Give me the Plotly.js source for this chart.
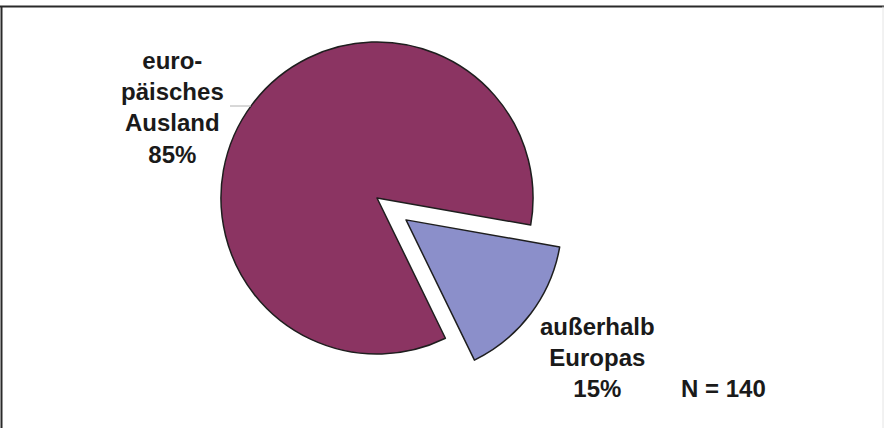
<!DOCTYPE html>
<html>
<head>
<meta charset="utf-8">
<script src="https://cdn.plot.ly/plotly-3.0.1.min.js"></script>
<style>html,body{margin:0;padding:0;background:#fff;}#chart{width:884px;height:428px;}</style>
</head>
<body>
<div id="chart"></div>
<script>
// Data
const labels = ['außerhalb<br>Europas', 'euro-<br>päisches<br>Ausland'];
const values = [15, 85];
const colors = ['#8B8FCA', '#8B3462'];
const pulls = [0.233, 0];
const sampleSize = 140;

const W = 884, H = 428;
const px = x => x / W;
const py = y => 1 - y / H;

const fontBold = {family: '"Liberation Sans", Arial, sans-serif', size: 24, color: '#1a1a1a'};

const trace = {
  type: 'pie',
  labels: labels,
  values: values,
  sort: false,
  direction: 'clockwise',
  rotation: 100,
  pull: pulls,
  marker: {colors: colors, line: {color: '#1e1e1e', width: 1.5}},
  textinfo: 'none',
  textposition: 'none',
  hoverinfo: 'none',
  showlegend: false,
  domain: {x: [px(177), px(577)], y: [py(390.4), py(5.6)]}
};

const labelPos = [
  {x: 597, y: 357},
  {x: 172, y: 107.5}
];

const annotations = labels.map((l, i) => ({
  xref: 'paper', yref: 'paper',
  x: px(labelPos[i].x), y: py(labelPos[i].y),
  xanchor: 'center', yanchor: 'middle',
  text: '<b>' + l + '<br>' + values[i] + '%</b>',
  showarrow: false,
  align: 'center',
  font: fontBold
}));
annotations.push({
  xref: 'paper', yref: 'paper',
  x: px(723), y: py(388),
  xanchor: 'center', yanchor: 'middle',
  text: '<b>N = ' + sampleSize + '</b>',
  showarrow: false,
  font: fontBold
});

const layout = {
  width: W, height: H,
  margin: {l: 0, r: 0, t: 0, b: 0},
  paper_bgcolor: '#ffffff',
  plot_bgcolor: '#ffffff',
  annotations: annotations,
  shapes: [
    {type: 'line', xref: 'paper', yref: 'paper', x0: 0, x1: 1, y0: py(6.5), y1: py(6.5), line: {color: '#2a2a2a', width: 2}},
    {type: 'line', xref: 'paper', yref: 'paper', x0: px(1.5), x1: px(1.5), y0: 0, y1: py(6.5), line: {color: '#2a2a2a', width: 2}},
    {type: 'line', xref: 'paper', yref: 'paper', x0: px(883), x1: px(883), y0: 0, y1: py(6.5), line: {color: '#e4e4e4', width: 1}},
    {type: 'line', xref: 'paper', yref: 'paper', x0: px(230), x1: px(251), y0: py(106), y1: py(106), line: {color: '#b0b0b0', width: 1}}
  ]
};

Plotly.newPlot('chart', [trace], layout, {displayModeBar: false, staticPlot: true});
</script>
</body>
</html>
